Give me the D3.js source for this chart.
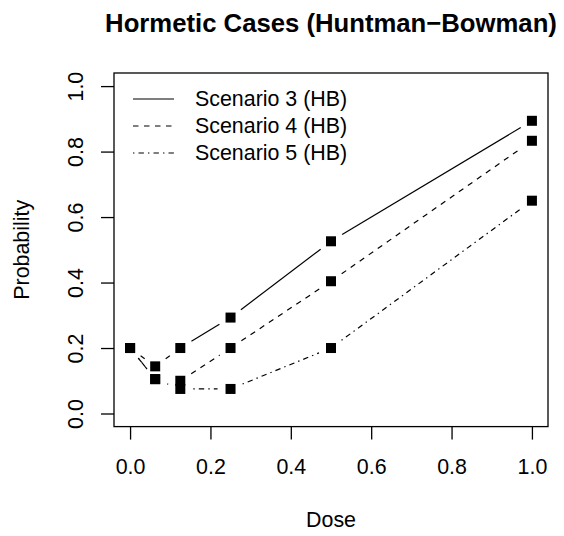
<!DOCTYPE html>
<html>
<head>
<meta charset="utf-8">
<script src="https://cdn.jsdelivr.net/npm/d3@7"></script>
<style>
  html, body { margin: 0; padding: 0; background: #fff; }
  svg { display: block; font-family: "Liberation Sans", Arial, Helvetica, sans-serif; }
</style>
</head>
<body>
<script>
// Dose levels and response probabilities per scenario
const doses = [0, 0.0625, 0.125, 0.25, 0.5, 1.0];
const scenario3 = [0.2, 0.144, 0.2, 0.293, 0.526, 0.894];
const scenario4 = [0.2, 0.105, 0.1, 0.2, 0.404, 0.833];
const scenario5 = [0.2, 0.105, 0.075, 0.075, 0.2, 0.65];
const seriesNames = ["Scenario 3 (HB)", "Scenario 4 (HB)", "Scenario 5 (HB)"];
const xTicks = [0, 0.2, 0.4, 0.6, 0.8, 1.0];
const yTicks = [0, 0.2, 0.4, 0.6, 0.8, 1.0];

const W = 564, H = 536;
const plot = { left: 114, right: 548, top: 73, bottom: 426.6 };
const fs = 21.4;
const dashes = ["none", "5.5,5.5", "1.4,4.1,5.4,4.1"];

const svg = d3.select("body").append("svg")
  .attr("width", W).attr("height", H);
svg.append("rect").attr("width", W).attr("height", H).attr("fill", "#fff");

// R-style axes: data range padded by 4% on each side
const x = d3.scaleLinear().domain([-0.04, 1.04]).range([plot.left, plot.right]);
const y = d3.scaleLinear().domain([-0.04, 1.04]).range([plot.bottom, plot.top]);

const fmt = d3.format(".1f");

const gx = svg.append("g")
  .attr("transform", `translate(0,${plot.bottom})`)
  .call(d3.axisBottom(x).tickValues(xTicks).tickFormat(fmt).tickSize(13).tickPadding(19));
gx.select(".domain").remove();
gx.selectAll("line").attr("stroke", "#000").attr("stroke-width", 1.3);
gx.selectAll("text").attr("font-size", fs).attr("fill", "#000").attr("font-family", null);

const gy = svg.append("g")
  .attr("transform", `translate(${plot.left},0)`)
  .call(d3.axisLeft(y).tickValues(yTicks).tickFormat(fmt).tickSize(13));
gy.select(".domain").remove();
gy.selectAll("line").attr("stroke", "#000").attr("stroke-width", 1.3);
gy.selectAll("text")
  .attr("font-size", fs).attr("fill", "#000").attr("font-family", null)
  .attr("x", null).attr("dy", "0.35em")
  .attr("text-anchor", "middle")
  .attr("transform", "translate(-39,0) rotate(-90)");
svg.selectAll(".tick text").attr("font-family", null);

// plot box
svg.append("rect")
  .attr("x", plot.left).attr("y", plot.top)
  .attr("width", plot.right - plot.left).attr("height", plot.bottom - plot.top)
  .attr("fill", "none").attr("stroke", "#000").attr("stroke-width", 1.3);

// lines with gaps around the points (type "b")
const series = [scenario3, scenario4, scenario5];
const gap = 13;
series.forEach((vals, si) => {
  const g = svg.append("g");
  for (let i = 0; i < doses.length - 1; i++) {
    const x0 = x(doses[i]), y0 = y(vals[i]);
    const x1 = x(doses[i + 1]), y1 = y(vals[i + 1]);
    const len = Math.hypot(x1 - x0, y1 - y0);
    if (len <= 2 * gap) continue;
    const ux = (x1 - x0) / len, uy = (y1 - y0) / len;
    g.append("line")
      .attr("x1", x0 + ux * gap).attr("y1", y0 + uy * gap)
      .attr("x2", x1 - ux * gap).attr("y2", y1 - uy * gap)
      .attr("stroke", "#000").attr("stroke-width", 1.2)
      .attr("stroke-dasharray", dashes[si]);
  }
  const sq = 10;
  g.selectAll("rect").data(vals).join("rect")
    .attr("x", (d, i) => x(doses[i]) - sq / 2)
    .attr("y", d => y(d) - sq / 2)
    .attr("width", sq).attr("height", sq)
    .attr("fill", "#000");
});

// legend
const legY = [99, 126, 153];
seriesNames.forEach((name, i) => {
  svg.append("line")
    .attr("x1", 133).attr("x2", 174)
    .attr("y1", legY[i]).attr("y2", legY[i])
    .attr("stroke", "#000").attr("stroke-width", 1.2)
    .attr("stroke-dasharray", dashes[i]);
  svg.append("text")
    .attr("x", 195).attr("y", legY[i]).attr("dy", "0.35em")
    .attr("font-size", fs).text(name);
});

// titles
svg.append("text")
  .attr("x", (plot.left + plot.right) / 2).attr("y", 32)
  .attr("text-anchor", "middle").attr("font-size", 25.7).attr("font-weight", "bold")
  .text("Hormetic Cases (Huntman\u2212Bowman)");
svg.append("text")
  .attr("x", (plot.left + plot.right) / 2).attr("y", 520).attr("dy", "0.35em")
  .attr("text-anchor", "middle").attr("font-size", fs)
  .text("Dose");
svg.append("text")
  .attr("transform", `translate(21,${(plot.top + plot.bottom) / 2}) rotate(-90)`)
  .attr("dy", "0.35em")
  .attr("text-anchor", "middle").attr("font-size", fs)
  .text("Probability");
</script>
</body>
</html>
